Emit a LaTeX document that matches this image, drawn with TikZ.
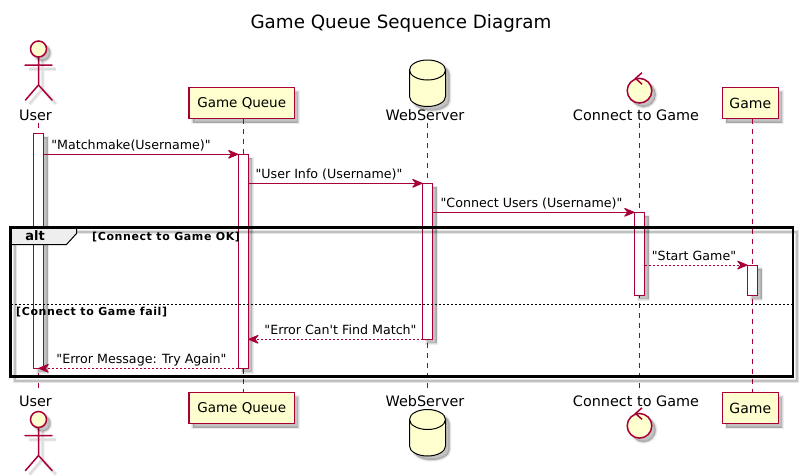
\documentclass[tikz,border=0pt]{standalone}
\usepackage{fontspec}
\newfontfamily\dv{DejaVu Sans}
\newfontfamily\dvg[LetterSpace=5.5]{DejaVu Sans}
\usetikzlibrary{arrows.meta}
\definecolor{pu}{HTML}{A80036}
\definecolor{puy}{HTML}{FEFECE}
\definecolor{tabg}{HTML}{EEEEEE}
\tikzset{
  softshadow/.style={
    preaction={draw=black,fill=black,opacity=.07,line width=3.5pt,transform canvas={xshift=4pt,yshift=-4pt}},
    preaction={draw=black,fill=black,opacity=.08,line width=1.5pt,transform canvas={xshift=4pt,yshift=-4pt}},
    preaction={fill=black,opacity=.10,transform canvas={xshift=4pt,yshift=-4pt}}},
  lineshadow/.style={
    preaction={draw=black,opacity=.06,line width=4pt,transform canvas={xshift=4pt,yshift=-4pt}},
    preaction={draw=black,opacity=.08,line width=2pt,transform canvas={xshift=4pt,yshift=-4pt}}},
  partbox/.style={draw=pu,fill=puy,line width=1.5pt,inner sep=0pt,minimum height=31pt,font=\dv\fontsize{14}{16}\selectfont,softshadow},
  partlabel/.style={inner sep=0pt,font=\dv\fontsize{14.4}{16}\selectfont,anchor=center},
  lifeline/.style={draw=pu,line width=1pt,dash pattern=on 5pt off 5pt},
  actbar/.style={draw=pu,fill=white,line width=1pt,inner sep=0pt,outer sep=0pt,minimum width=10pt,softshadow},
  msg/.style={draw=pu,line width=1pt,-{Stealth[length=12pt,width=10pt,inset=4pt,round]}},
  ret/.style={msg,dash pattern=on 2pt off 2pt},
  msgtext/.style={inner sep=0pt,anchor=base,font=\dv\fontsize{12.65}{15}\selectfont},
  actorline/.style={draw=pu,line width=1.5pt,line cap=round,line join=round},
  guard/.style={inner sep=0pt,anchor=base west,font=\dvg\fontsize{11}{13}\selectfont\bfseries},
  framebox/.style={draw=black,line width=2.2pt}
}
\newcommand{\actorfig}[1]{%
  \draw[actorline,lineshadow] (38.5,#1+8) -- (38.5,#1+36) (25,#1+16) -- (52,#1+16) (25.5,#1+51) -- (38.5,#1+36) -- (52,#1+51);
  \path[draw=pu,fill=puy,line width=1.5pt,softshadow] (38.5,#1) circle[radius=8];
}
\newcommand{\dbfig}[1]{%
  \path[draw=black,fill=puy,line width=1pt,softshadow] (409.5,#1+10) arc[start angle=180,end angle=360,x radius=18,y radius=10] -- (445.5,#1+36.5) arc[start angle=0,end angle=180,x radius=18,y radius=10] -- cycle;
  \draw[black,line width=1pt] (409.5,#1+10) arc[start angle=180,end angle=0,x radius=18,y radius=10];
}
\newcommand{\ctrlfig}[1]{%
  \path[draw=pu,fill=puy,line width=1.5pt,softshadow] (639.5,#1) circle[radius=12.3];
  \draw[pu,line width=1.5pt,line join=miter] (642,#1-18) -- (635.5,#1-12.3) -- (642,#1-6.5);
}
\begin{document}
\begin{tikzpicture}[x=1pt,y=-1pt]
\useasboundingbox (0,0) rectangle (805,475);
\fill[white] (0,0) rectangle (805,475);

\node[inner sep=0pt,font=\dv\fontsize{18.3}{20}\selectfont] (title) at (401,23) {Game Queue Sequence Diagram};

% participant heads and feet
\node[partlabel] (uT) at (35.5,115) {User};
\node[partlabel] (uB) at (35.5,401) {User};
\node[partbox,minimum width=105.5pt,font=\dv\fontsize{13.5}{16}\selectfont] (gT) at (241.7,103) {Game Queue};
\node[partbox,minimum width=105.5pt,font=\dv\fontsize{13.5}{16}\selectfont] (gB) at (241.7,408) {Game Queue};
\node[partlabel] (wT) at (425,115) {WebServer};
\node[partlabel] (wB) at (425,401) {WebServer};
\node[partlabel] (cT) at (636,115) {Connect to Game};
\node[partlabel] (cB) at (636,401) {Connect to Game};
\node[partbox,minimum width=56pt] (aT) at (750.3,103) {Game};
\node[partbox,minimum width=56pt] (aB) at (750.3,408) {Game};

\actorfig{49}
\actorfig{419.5}
\dbfig{60}
\dbfig{409.5}
\ctrlfig{90.7}
\ctrlfig{425.8}

% lifeline ends
\coordinate (lu1) at (38.5,123); \coordinate (lu2) at (38.5,388);
\coordinate (lg1) at (243,118.5); \coordinate (lg2) at (243,392);
\coordinate (lw1) at (427.5,123); \coordinate (lw2) at (427.5,388);
\coordinate (lc1) at (639.5,123); \coordinate (lc2) at (639.5,388);
\coordinate (la1) at (752.5,118.5); \coordinate (la2) at (752.5,392);
\draw[lifeline] (lu1) -- (lu2);
\draw[lifeline] (lg1) -- (lg2);
\draw[lifeline] (lw1) -- (lw2);
\draw[lifeline] (lc1) -- (lc2);
\draw[lifeline] (la1) -- (la2);

% activation bars
\node[actbar,minimum height=235pt] (b1) at (38.5,250.8) {};
\node[actbar,minimum height=214pt] (b2) at (243.3,261.3) {};
\node[actbar,minimum height=156pt] (b3) at (427.5,261.3) {};
\node[actbar,minimum height=83pt] (b4) at (639.5,253.8) {};
\node[actbar,minimum height=30.3pt] (b5) at (752.5,280.2) {};

% frame
\coordinate (f1) at (10.5,227.5); \coordinate (f2) at (793,376.5);
\draw[line width=2pt,black,opacity=.16,transform canvas={xshift=4pt,yshift=-4pt}] (f1) rectangle (f2);
\draw[line width=4pt,black,opacity=.10,transform canvas={xshift=4pt,yshift=-4pt}] (f1) rectangle (f2);
\path[draw=black,fill=tabg,line width=1pt] (10.5,227.5) -- (76.5,227.5) -- (76.5,233.5) -- (66.5,244.5) -- (10.5,244.5) -- cycle;
\draw[framebox] (f1) rectangle (f2);
\node[inner sep=0pt,anchor=base,font=\dv\fontsize{13}{15}\selectfont\bfseries] (altlabel) at (35,240.5) {alt};
\node[guard] (g1) at (92,240) {[Connect to Game OK]};
\coordinate (d1) at (11,304.5); \coordinate (d2) at (792,304.5);
\draw[black,line width=1pt,dash pattern=on 2pt off 2pt] (d1) -- (d2);
\node[guard] (g2) at (16,315.5) {[Connect to Game fail]};

% messages
\coordinate (m1a) at (b1.east |- b2.north); \coordinate (m1b) at (b2.north west);
\draw[msg] (m1a) -- (m1b);
\node[msgtext] (t1) at (131,149.5) {"Matchmake(Username)"};
\coordinate (m2a) at (b2.east |- b3.north); \coordinate (m2b) at (b3.north west);
\draw[msg] (m2a) -- (m2b);
\node[msgtext] (t2) at (329,178.5) {"User Info (Username)"};
\coordinate (m3a) at (b3.east |- b4.north); \coordinate (m3b) at (b4.north west);
\draw[msg] (m3a) -- (m3b);
\node[msgtext] (t3) at (531.5,207.5) {"Connect Users (Username)"};
\coordinate (m4a) at (b4.east |- b5.north); \coordinate (m4b) at (b5.north west);
\draw[ret] (m4a) -- (m4b);
\node[msgtext] (t4) at (694,260.5) {"Start Game"};
\coordinate (m5a) at (b3.south west); \coordinate (m5b) at (b2.east |- b3.south);
\draw[ret] (m5a) -- (m5b);
\node[msgtext] (t5) at (340.5,334.5) {"Error Can't Find Match"};
\coordinate (m6a) at (b2.south west); \coordinate (m6b) at (b1.center |- b2.south);
\draw[ret] (m6a) -- (m6b);
\node[msgtext] (t6) at (141.5,363.5) {"Error Message: Try Again"};
\end{tikzpicture}
\end{document}
